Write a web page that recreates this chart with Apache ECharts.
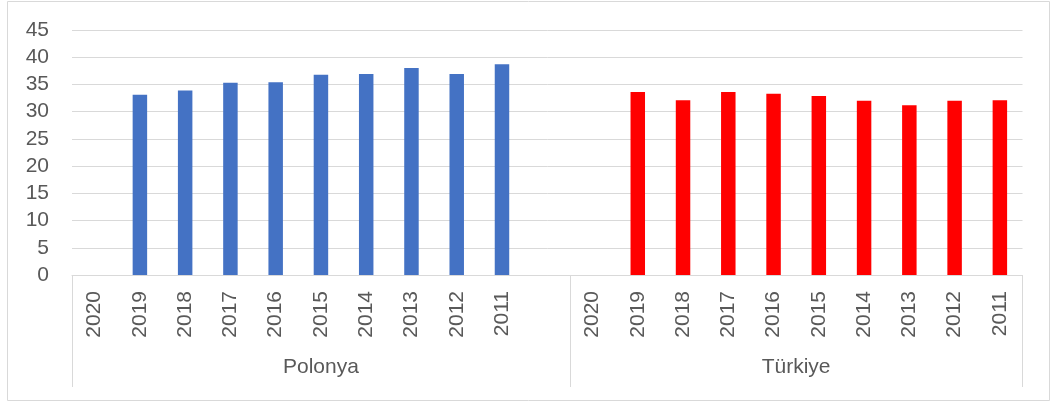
<!DOCTYPE html>
<html>
<head>
<meta charset="utf-8">
<script src="https://cdn.jsdelivr.net/npm/echarts@6/dist/echarts.min.js"></script>
<style>
  html, body { margin: 0; padding: 0; background: #fff; }
  #chart { width: 1051px; height: 403px; }
</style>
</head>
<body>
<div id="chart"></div>
<script>
const years = ["2020", "2019", "2018", "2017", "2016", "2015", "2014", "2013", "2012", "2011"];
const groups = ["Polonya", "Türkiye"];
const polonya = [null, 33.1, 33.9, 35.3, 35.4, 36.8, 36.9, 38.0, 36.9, 38.7];
const turkiye = [null, 33.6, 32.1, 33.6, 33.3, 32.9, 32.0, 31.2, 32.0, 32.1];
const yTicks = [0, 5, 10, 15, 20, 25, 30, 35, 40, 45];

// Polonya group has one blank slot after its years
const categories = [...years, "", ...years];
const groupStart = [0, years.length + 1];
const groupLabels = categories.map(() => "");
groupLabels[5] = groups[0];
groupLabels[15] = groups[1];

const polonyaData = [...polonya, null, ...years.map(() => null)];
const turkiyeData = [...years.map(() => null), null, ...turkiye];

const font = "'Liberation Sans', Arial, sans-serif";
const gray = "#595959";
const lineColor = "#d9d9d9";

const myChart = echarts.init(document.getElementById("chart"));
myChart.setOption({
  animation: false,
  grid: { left: 72, right: 28.5, top: 30, bottom: 128 },
  graphic: [
    {
      type: "rect",
      shape: { x: 7.5, y: 1.5, width: 1042, height: 399 },
      style: { fill: "none", stroke: lineColor, lineWidth: 1 },
    },
  ],
  xAxis: [
    {
      type: "category",
      data: categories,
      axisLine: { lineStyle: { color: lineColor } },
      axisTick: { show: false },
      axisLabel: {
        interval: 0,
        rotate: 90,
        margin: 16,
        color: gray,
        fontFamily: font,
        fontSize: 21,
      },
    },
    {
      type: "category",
      data: groupLabels,
      position: "bottom",
      axisLine: { show: false },
      axisTick: {
        show: true,
        length: 112,
        interval: (idx) => groupStart.includes(idx),
        lineStyle: { color: lineColor },
      },
      axisLabel: {
        interval: 0,
        margin: 82,
        color: gray,
        fontFamily: font,
        fontSize: 21,
        // Türkiye spans an even number of slots, so nudge it half a slot
        formatter: (v) => (v === groups[1] ? "{r|" + v + "}" : v),
        rich: { r: { padding: [0, 0, 0, 45], color: gray, fontFamily: font, fontSize: 21 } },
      },
    },
  ],
  yAxis: {
    type: "value",
    min: yTicks[0],
    max: yTicks[yTicks.length - 1],
    interval: 5,
    axisLine: { show: false },
    axisTick: { show: false },
    splitLine: { lineStyle: { color: lineColor } },
    axisLabel: { margin: 23, color: gray, fontFamily: font, fontSize: 21 },
  },
  series: [
    {
      name: groups[0],
      type: "bar",
      barWidth: "32%",
      barGap: "-100%",
      itemStyle: { color: "#4472C4" },
      data: polonyaData,
    },
    {
      name: groups[1],
      type: "bar",
      barWidth: "32%",
      barGap: "-100%",
      itemStyle: { color: "#FF0000" },
      data: turkiyeData,
    },
  ],
});
</script>
</body>
</html>
